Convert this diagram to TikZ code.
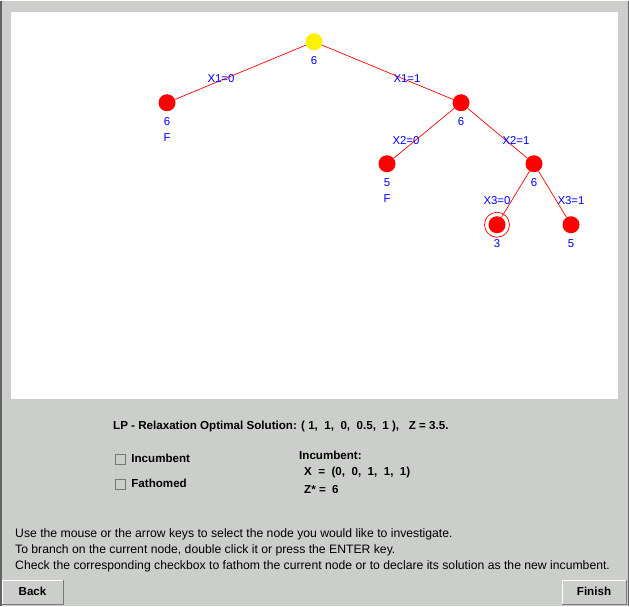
\documentclass[tikz,border=0pt]{standalone}
\usepackage{fontspec}
\setmainfont{Liberation Sans}
\usepackage{tikz}
\usetikzlibrary{positioning}
\usepackage{xcolor}
\definecolor{panelgray}{RGB}{204,206,204}
\definecolor{framedark}{RGB}{100,100,100}
\definecolor{btndark}{RGB}{120,120,120}
\definecolor{labelblue}{RGB}{0,0,255}

\tikzset{
  bbnode/.style={circle,fill=red,inner sep=0pt,minimum size=17pt},
  rootnode/.style={bbnode,fill=yellow},
  tree/.style={red,line width=0.7pt},
  edgelbl/.style={text=labelblue,font=\fontsize{11.4}{13}\selectfont,inner sep=0pt},
  vallbl/.style={text=labelblue,font=\fontsize{11.4}{16}\selectfont,inner sep=0pt,label distance=6pt},
  infobold/.style={font=\bfseries\fontsize{11.6}{13}\selectfont,inner sep=0pt,anchor=west},
  infotext/.style={font=\fontsize{12.2}{16}\selectfont,inner sep=0pt,align=left},
  checkbox/.style={draw=btndark,fill=panelgray,minimum size=10pt,inner sep=0pt},
  button/.style={draw=white,fill=panelgray,minimum width=61pt,minimum height=24pt,inner sep=0pt,font=\bfseries\fontsize{11.6}{13}\selectfont},
}

\begin{document}
\begin{tikzpicture}[x=1pt,y=-1pt]
    % window and drawing area
    \fill[panelgray] (0,0) rectangle (629,605);
    \draw[framedark,line width=1.5pt] (0.75,0) -- (0.75,605);
    \draw[framedark,line width=1.5pt] (628.25,0) -- (628.25,605);
    \fill[white] (11,11) rectangle (618,398);

    % branch and bound tree
    \node[rootnode,label={[vallbl]below:6}] (root) at (314,41) {};
    \node[bbnode,label={[vallbl,align=center]below:6\\F}] (x1zero) at (167,102) {};
    \node[bbnode,label={[vallbl]below:6}] (x1one) at (461,102) {};
    \node[bbnode,label={[vallbl,align=center]below:5\\F}] (x2zero) at (387,163) {};
    \node[bbnode,label={[vallbl]below:6}] (x2one) at (534,163) {};
    \node[bbnode,label={[vallbl]below:3}] (x3zero) at (497,224) {};
    \node[bbnode,label={[vallbl]below:5}] (x3one) at (571,224) {};
    \draw[tree] (x3zero) circle (12.5);

    \draw[tree] (root) -- (x1zero);
    \draw[tree] (root) -- (x1one);
    \draw[tree] (x1one) -- (x2zero);
    \draw[tree] (x1one) -- (x2one);
    \draw[tree] (x2one) -- (x3zero);
    \draw[tree] (x2one) -- (x3one);

    \node[edgelbl] (lblxa) at (221,78) {X1=0};
    \node[edgelbl] (lblxb) at (407,78) {X1=1};
    \node[edgelbl] (lblxc) at (406,140) {X2=0};
    \node[edgelbl] (lblxd) at (516,140) {X2=1};
    \node[edgelbl] (lblxe) at (497,200) {X3=0};
    \node[edgelbl] (lblxf) at (571,200) {X3=1};

    % status panel
    \node[infobold] (lpsol) at (113,426) {LP - Relaxation Optimal Solution: ( 1,\ \ 1,\ \ 0,\ \ 0.5,\ \ 1 ),\ \ \ Z = 3.5.};
    \node[checkbox] (incbox) at (120,458) {};
    \node[checkbox] (fathbox) at (120,483) {};
    \node[infobold,right=6pt of incbox] (inctext) {Incumbent};
    \node[infobold,right=6pt of fathbox] (fathtext) {Fathomed};
    \node[infobold] (inchead) at (299,455) {Incumbent:};
    \node[infobold] (incx) at (304,472) {X\ \ =\ \ (0,\ \ 0,\ \ 1,\ \ 1,\ \ 1)};
    \node[infobold] (incz) at (304,489) {Z* =\ \ 6};

    \node[infotext,anchor=base west] (help) at (15,568.4) {Use the mouse or the arrow keys to select the node you would like to investigate.\\
        To branch on the current node, double click it or press the ENTER key.\\
        Check the corresponding checkbox to fathom the current node or to declare its solution as the new incumbent.};

    % buttons
    \node[button] (back) at (32.5,591) {Back};
    \node[button,minimum width=64pt] (finish) at (594,591) {Finish};
    \draw[btndark] (back.north east) -- (back.south east) -- (back.south west);
    \draw[btndark] (finish.north east) -- (finish.south east) -- (finish.south west);
\end{tikzpicture}
\end{document}
